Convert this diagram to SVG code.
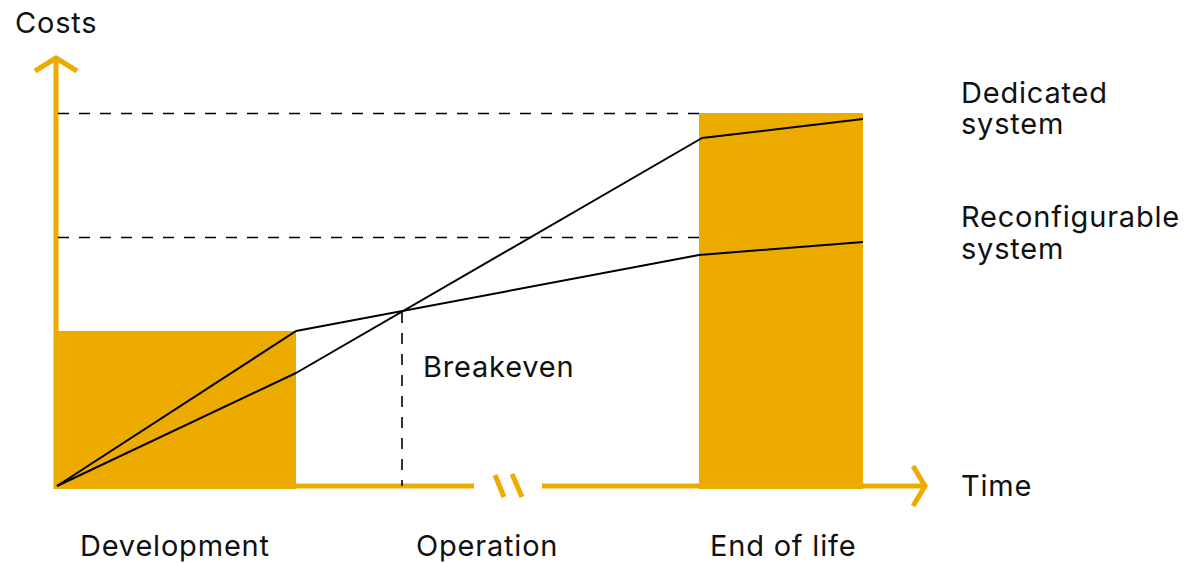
<svg xmlns="http://www.w3.org/2000/svg" width="1184" height="563" viewBox="0 0 1184 563">
<style>
text{font-family:Inter,"Liberation Sans",Arial,sans-serif;font-size:29px;letter-spacing:0.8px;fill:#111}
.ax{stroke:#EDAB00;stroke-width:5;fill:none}
.bar{fill:#EDAB00}
.dash{stroke:#000;stroke-width:1.6;stroke-dasharray:11 10;fill:none}
.ln{stroke:#000;stroke-width:2;fill:none;stroke-linejoin:round}
</style>
<rect width="1184" height="563" fill="#fff"/>
<g id="phases">
<rect id="development-bar" class="bar" x="54" y="331" width="242" height="158"/>
<rect id="endoflife-bar" class="bar" x="699" y="113" width="164" height="376"/>
</g>
<g id="axes">
<path id="y-axis" class="ax" d="M56 489 V58 M35 71 L56 58 L77 71"/>
<path id="x-axis" class="ax" d="M54 486 H474 M542 486 H924 M913 466 L925 486 L913 506"/>
<path id="break" class="ax" d="M495 475 L504 497 M512 474 L522 497"/>
</g>
<g id="connectors">
<path class="dash" d="M58 113.5 H699"/>
<path class="dash" d="M58 237.5 H699"/>
<path class="dash" d="M402 312 V486"/>
<path id="reconfigurable-line" class="ln" d="M57 486 L296 331 L699 255 L863 242"/>
<path id="dedicated-line" class="ln" d="M57 486 L296 373 L702 138 L863 119"/>
</g>
<g id="labels">
<text x="15" y="33">Costs</text>
<text x="961" y="103">Dedicated</text>
<text x="961" y="134">system</text>
<text x="961" y="227">Reconfigurable</text>
<text x="961" y="259">system</text>
<text x="423" y="377">Breakeven</text>
<text x="961" y="496">Time</text>
<text x="80" y="556">Development</text>
<text x="416" y="556">Operation</text>
<text x="710" y="556">End of life</text>
</g>
</svg>
